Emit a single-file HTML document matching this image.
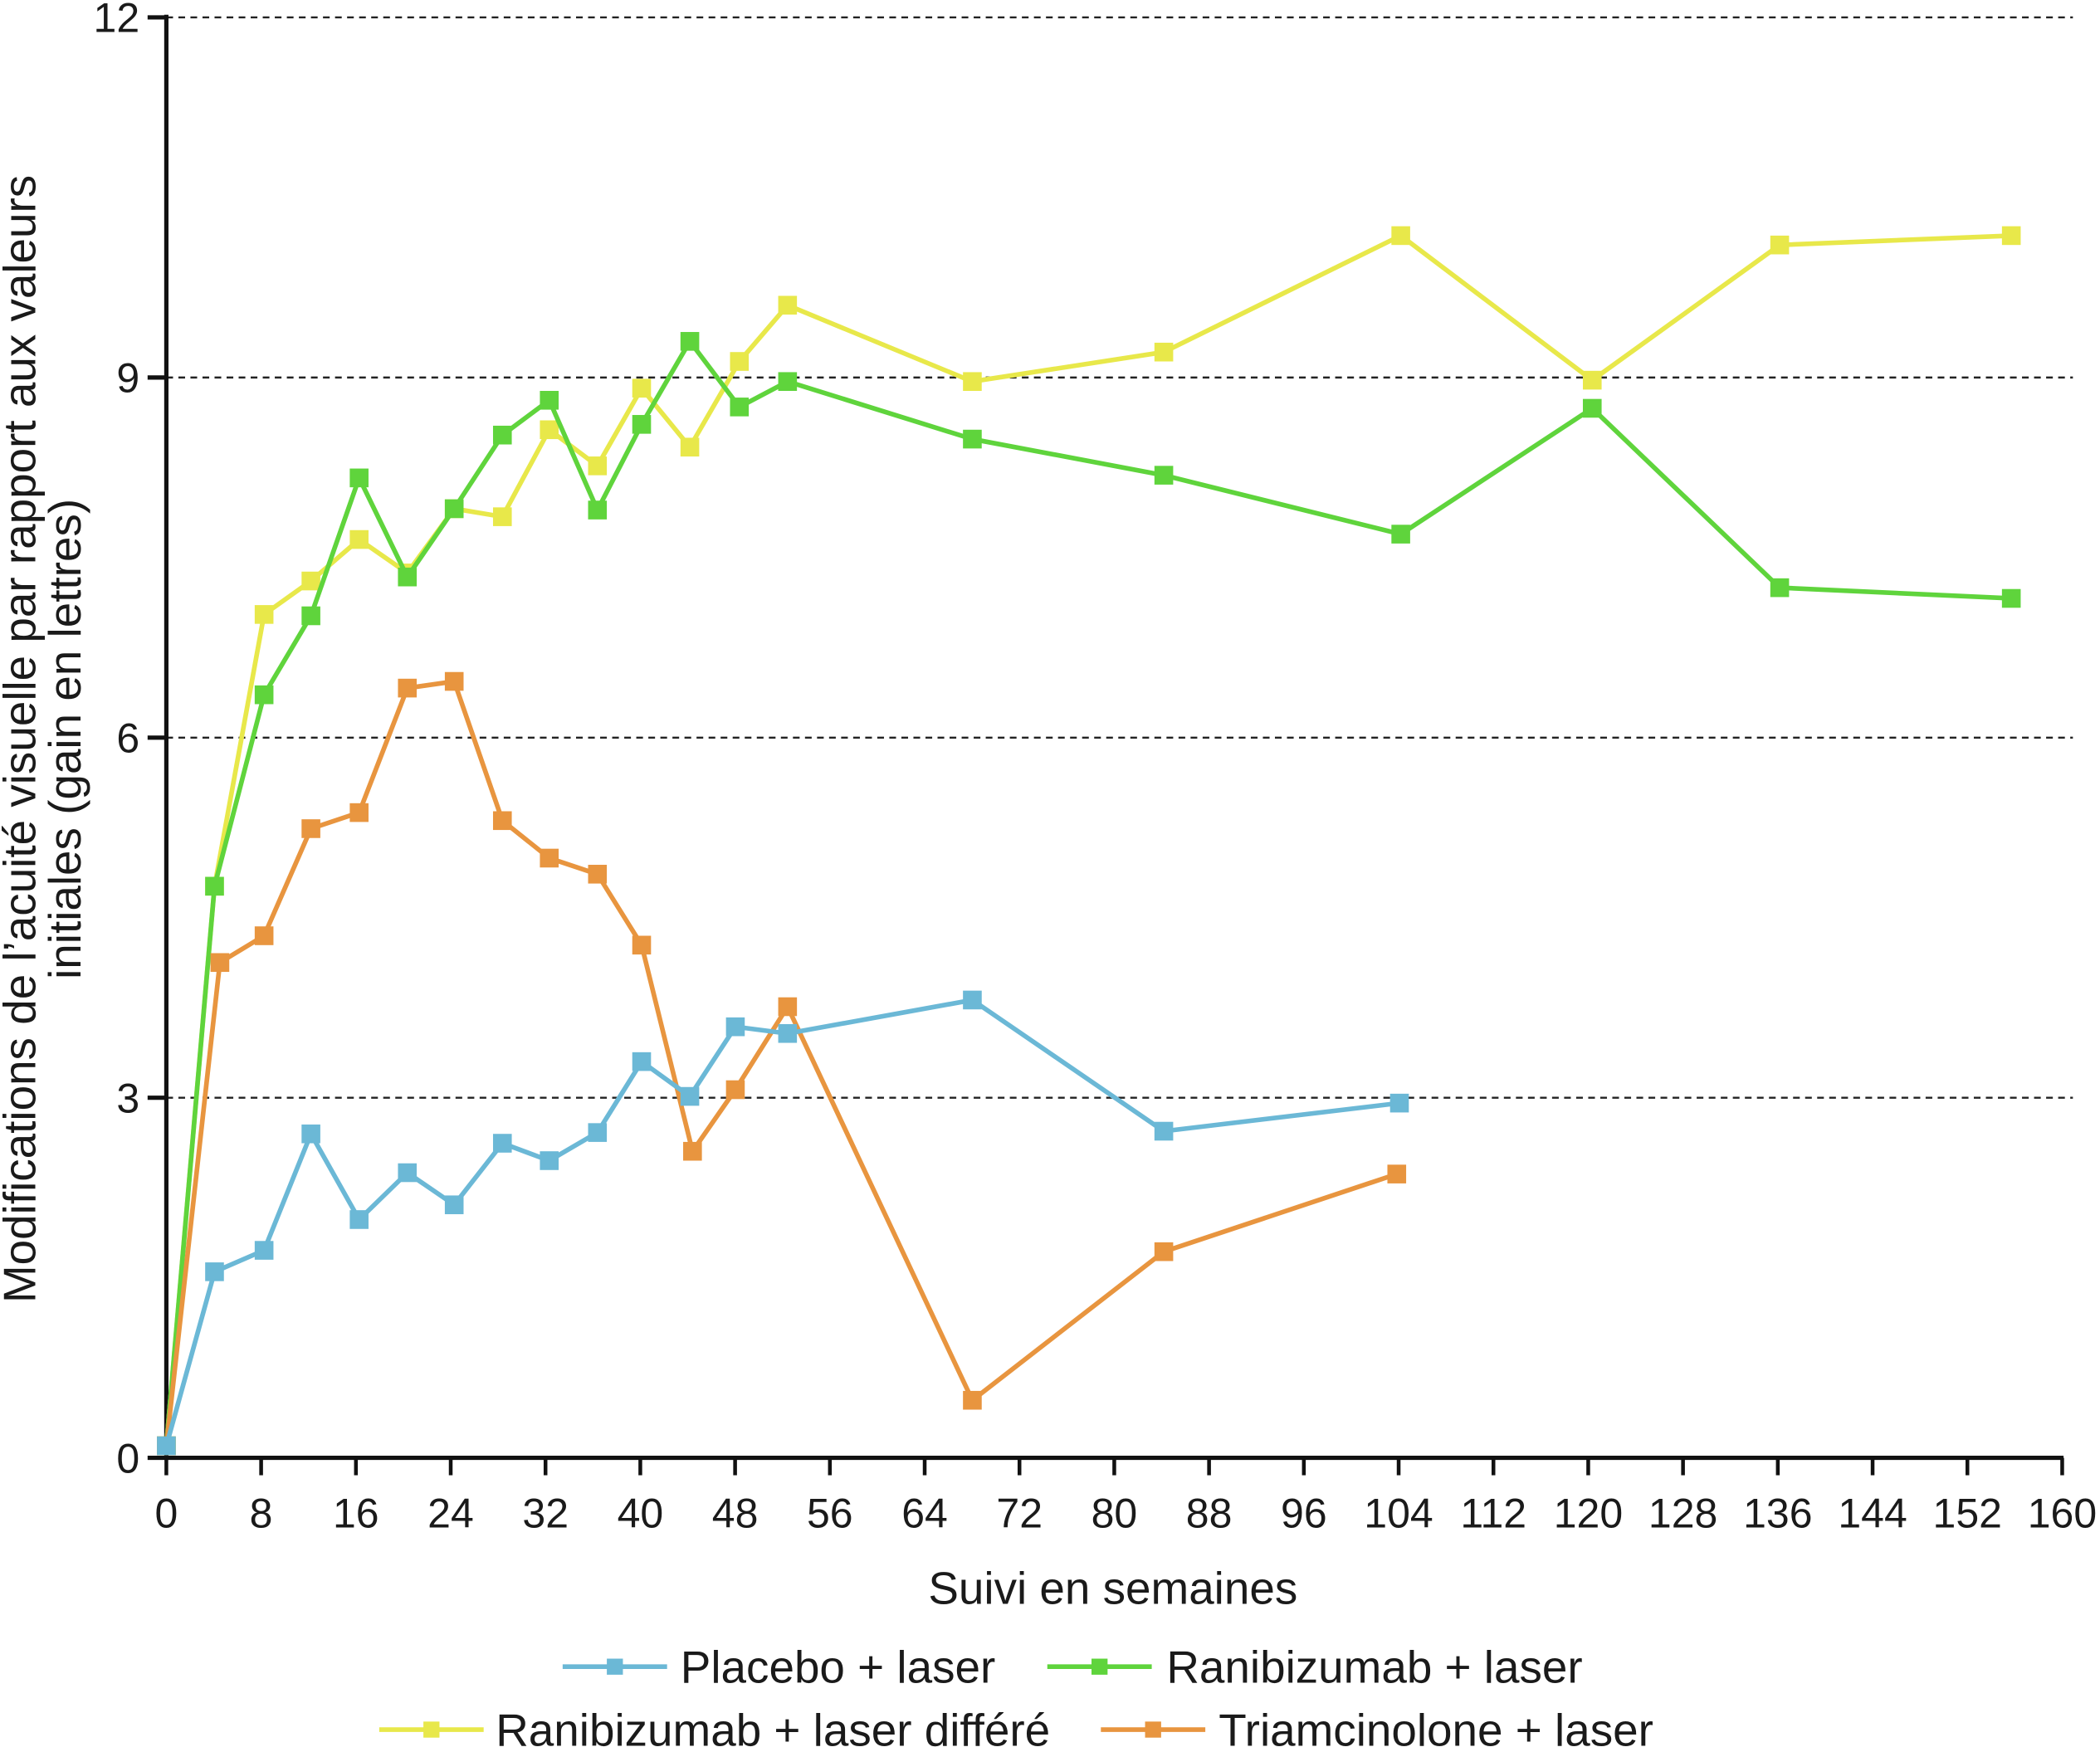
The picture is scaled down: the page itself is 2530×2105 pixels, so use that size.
<!DOCTYPE html>
<html><head><meta charset="utf-8"><style>
html,body{margin:0;padding:0;background:#fff;width:2530px;height:2105px;overflow:hidden}
svg{display:block}
text{font-family:"Liberation Sans",Arial,sans-serif;fill:#1a1a1a}
</style></head><body>
<svg width="2530" height="2105" viewBox="0 0 1568 1305" xmlns="http://www.w3.org/2000/svg">
<g stroke="#222" stroke-width="1.5" stroke-dasharray="5,4">
<line x1="124" y1="13" x2="1548" y2="13"/>
<line x1="124" y1="282" x2="1548" y2="282"/>
<line x1="124" y1="551" x2="1548" y2="551"/>
<line x1="124" y1="820" x2="1548" y2="820"/>
</g>
<g stroke="#111" stroke-width="3.2" fill="none">
<line x1="124" y1="11" x2="124" y2="1090"/>
<line x1="123" y1="1089" x2="1541" y2="1089"/>
<line x1="110" y1="13" x2="124" y2="13"/>
<line x1="110" y1="282" x2="124" y2="282"/>
<line x1="110" y1="551" x2="124" y2="551"/>
<line x1="110" y1="820" x2="124" y2="820"/>
<line x1="110" y1="1089" x2="124" y2="1089"/>
</g>
<g stroke="#111" stroke-width="2.8" id="xt"></g>
<g font-size="31" text-anchor="end">
<text x="104" y="24">12</text><text x="104" y="293">9</text><text x="104" y="562">6</text><text x="104" y="831">3</text><text x="104" y="1100">0</text>
</g>
<g id="xl" font-size="31" text-anchor="middle"></g>
<text x="831" y="1198" font-size="34" text-anchor="middle">Suivi en semaines</text>
<g transform="translate(26,552) rotate(-90)" font-size="34" text-anchor="middle">
<text x="0" y="0">Modifications de l’acuité visuelle par rapport aux valeurs</text>
<text x="0" y="34">initiales (gain en lettres)</text>
</g>
<g id="series"></g>
<g font-size="34">
<line x1="420" y1="1245" x2="498" y2="1245" stroke="#6bb8d6" stroke-width="3.5"/><rect x="453" y="1239" width="12" height="12" fill="#6bb8d6"/>
<text x="508" y="1257">Placebo + laser</text>
<line x1="782" y1="1245" x2="860" y2="1245" stroke="#5fd43c" stroke-width="3.5"/><rect x="815" y="1239" width="12" height="12" fill="#5fd43c"/>
<text x="871" y="1257">Ranibizumab + laser</text>
<line x1="283" y1="1292" x2="361" y2="1292" stroke="#e8e84a" stroke-width="3.5"/><rect x="316" y="1286" width="12" height="12" fill="#e8e84a"/>
<text x="370" y="1304">Ranibizumab + laser différé</text>
<line x1="822" y1="1292" x2="900" y2="1292" stroke="#e8953f" stroke-width="3.5"/><rect x="855" y="1286" width="12" height="12" fill="#e8953f"/>
<text x="910" y="1304">Triamcinolone + laser</text>
</g>
</svg>
<script>
var ns="http://www.w3.org/2000/svg";
var xt=document.getElementById("xt"),xl=document.getElementById("xl");
for(var w=0;w<=160;w+=8){var x=124+w*1416/160;
var l=document.createElementNS(ns,"line");l.setAttribute("x1",x);l.setAttribute("x2",x);l.setAttribute("y1",1089);l.setAttribute("y2",1102);xt.appendChild(l);
var t=document.createElementNS(ns,"text");t.setAttribute("x",x);t.setAttribute("y",1141);t.textContent=w;xl.appendChild(t);}
var S=[
["#e8e84a",[[124,1080],[160,662],[197,459],[232,434],[268,403],[304,428],[339,380],[375,386],[410,321],[446,348],[479,290],[515,334],[552,270],[588,228],[726,285],[869,263],[1046,176],[1189,284],[1329,183],[1502,176]]],
["#5fd43c",[[124,1080],[160,662],[197,519],[232,460],[268,357],[304,431],[339,380],[375,325],[410,299],[446,381],[479,317],[515,255],[552,304],[588,285],[726,328],[869,355],[1046,399],[1189,305],[1329,439],[1502,447]]],
["#e8953f",[[124,1080],[164,719],[197,699],[232,619],[268,607],[304,514],[339,509],[375,613],[410,641],[446,653],[479,706],[517,860],[549,814],[588,752],[726,1046],[869,935],[1043,877]]],
["#6bb8d6",[[124,1080],[160,950],[197,934],[232,847],[268,911],[304,876],[339,900],[375,854],[410,867],[446,846],[479,793],[515,819],[549,767],[588,772],[726,747],[869,845],[1045,824]]]
];
var g=document.getElementById("series");
S.forEach(function(s){var p=document.createElementNS(ns,"polyline");p.setAttribute("points",s[1].map(function(a){return a.join(",")}).join(" "));p.setAttribute("fill","none");p.setAttribute("stroke",s[0]);p.setAttribute("stroke-width","3.5");p.setAttribute("stroke-linejoin","round");g.appendChild(p);
s[1].forEach(function(a){var r=document.createElementNS(ns,"rect");r.setAttribute("x",a[0]-7);r.setAttribute("y",a[1]-7);r.setAttribute("width",14);r.setAttribute("height",14);r.setAttribute("fill",s[0]);g.appendChild(r);});});
</script>
</body></html>
